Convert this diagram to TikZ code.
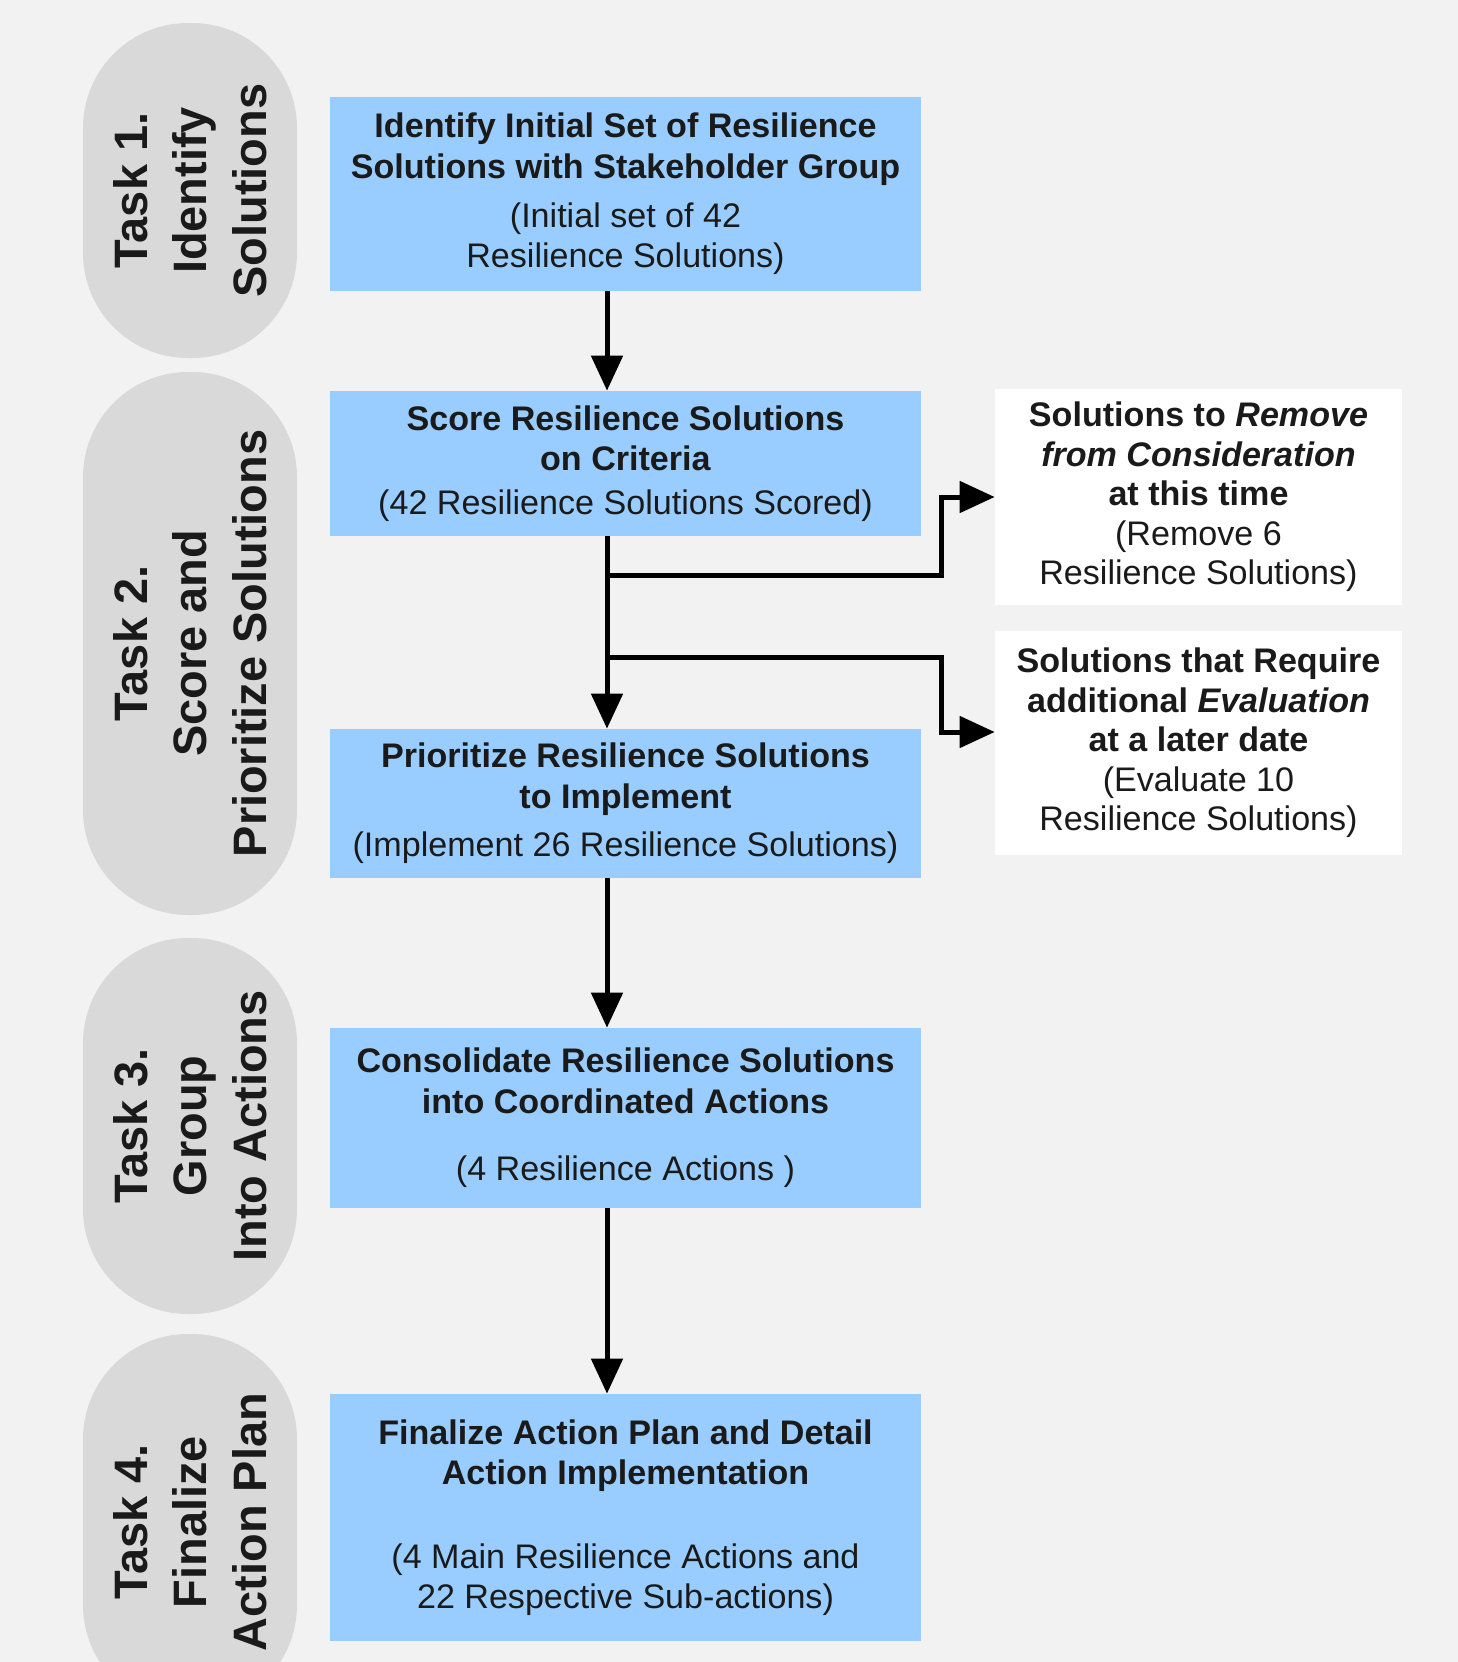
\documentclass[tikz,border=0pt]{standalone}
\usepackage{fontspec}
\setmainfont{Liberation Sans}
\usetikzlibrary{arrows.meta}
\definecolor{canvas}{HTML}{F2F2F2}
\definecolor{pillgray}{HTML}{D9D9D9}
\definecolor{boxblue}{HTML}{99CCFF}
\definecolor{inktext}{HTML}{1A1A1A}

\begin{document}
\begin{tikzpicture}[
  taskpill/.style={rotate=90, fill=pillgray, rounded corners=2.1cm, minimum height=4.28cm,
    align=center, inner sep=0pt, text=inktext, font=\bfseries\fontsize{26.7}{34}\selectfont},
  stepbox/.style={fill=boxblue, minimum width=11.82cm, align=center, inner sep=0pt,
    text=inktext, font=\fontsize{19.4}{23}\selectfont},
  sidebox/.style={fill=white, minimum width=8.14cm, align=center, inner sep=0pt,
    text=inktext, font=\fontsize{19.4}{22.5}\selectfont},
  flow/.style={line width=0.1cm, -{Triangle[length=0.7cm,width=0.62cm]}}
]
\clip (0,0) rectangle (29.16,-33.24);
\fill[canvas] (0,0) rectangle (29.16,-33.24);

% task labels on the left
\node[taskpill, minimum width=6.7cm] (task1) at (3.8,-3.81) {Task 1.\\Identify\\Solutions};
\node[taskpill, minimum width=10.86cm] (task2) at (3.8,-12.87) {Task 2.\\Score and\\Prioritize Solutions};
\node[taskpill, minimum width=7.52cm] (task3) at (3.8,-22.52) {Task 3.\\Group\\Into Actions};
\node[taskpill, minimum width=7.52cm] (task4) at (3.8,-30.44) {Task 4.\\Finalize\\Action Plan};

% main steps
\node[stepbox, minimum height=3.88cm] (identify) at (12.51,-3.88)
  {\textbf{Identify Initial Set of Resilience}\\\textbf{Solutions with Stakeholder Group}\\[0.18cm](Initial set of 42\\Resilience Solutions)};
\node[stepbox, minimum height=2.9cm] (score) at (12.51,-9.27)
  {\textbf{Score Resilience Solutions}\\\textbf{on Criteria}\\[0.06cm](42 Resilience Solutions Scored)};
\node[stepbox, minimum height=2.98cm] (prioritize) at (12.51,-16.07)
  {\textbf{Prioritize Resilience Solutions}\\\textbf{to Implement}\\[0.16cm](Implement 26 Resilience Solutions)};
\node[stepbox, minimum height=3.6cm] (consolidate) at (12.51,-22.36)
  {\textbf{Consolidate Resilience Solutions}\\\textbf{into Coordinated Actions}\\[0.54cm](4 Resilience Actions )};
\node[stepbox, minimum height=4.94cm] (finalize) at (12.51,-30.35)
  {\textbf{Finalize Action Plan and Detail}\\\textbf{Action Implementation}\\[0.86cm](4 Main Resilience Actions and\\22 Respective Sub-actions)};

% side outcomes
\node[sidebox, minimum height=4.32cm] (remove) at (23.97,-9.94)
  {\textbf{Solutions to \textit{Remove}}\\\textbf{\textit{from Consideration}}\\\textbf{at this time}\\(Remove 6\\Resilience Solutions)};
\node[sidebox, minimum height=4.48cm] (evaluate) at (23.97,-14.86)
  {\textbf{Solutions that Require}\\\textbf{additional \textit{Evaluation}}\\\textbf{at a later date}\\(Evaluate 10\\Resilience Solutions)};

\coordinate (spine) at (12.14,0);
\coordinate (splitA) at (12.14,-11.5);
\coordinate (splitB) at (12.14,-13.14);
\coordinate (bend) at (18.82,0);

\draw[flow] (identify.south -| spine) -- (score.north -| spine);
\draw[flow] (score.south -| spine) -- (prioritize.north -| spine);
\draw[flow] (splitA) -- (splitA -| bend) |- (remove.west);
\draw[flow] (splitB) -- (splitB -| bend) |- ([yshift=0.22cm]evaluate.west);
\draw[flow] (prioritize.south -| spine) -- (consolidate.north -| spine);
\draw[flow] (consolidate.south -| spine) -- (finalize.north -| spine);
\end{tikzpicture}
\end{document}
